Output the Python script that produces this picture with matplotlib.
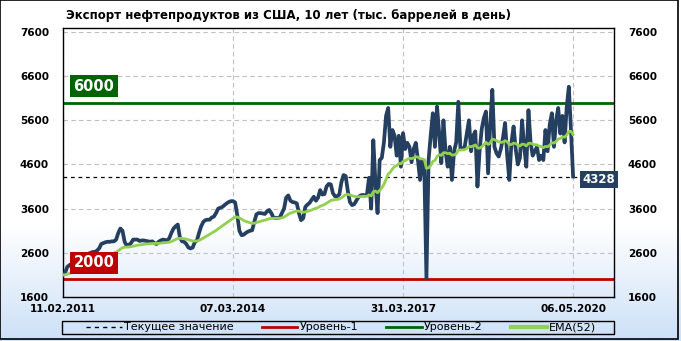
import numpy as np
import pandas as pd
import matplotlib.pyplot as plt
from matplotlib.patches import Rectangle
from matplotlib.lines import Line2D

plt.rcParams['font.family'] = 'DejaVu Sans'
plt.rcParams['font.weight'] = 'bold'

W, H = 681, 341

title = 'Экспорт нефтепродуктов из США, 10 лет (тыс. баррелей в день)'

# one value every 2 weeks, 11.02.2011 .. 06.05.2020
exports = [2100, 2150, 2280, 2320, 2350, 2380, 2420, 2450,
           2480, 2500, 2530, 2550, 2580, 2600, 2620, 2620,
           2650, 2700, 2800, 2820, 2840, 2850, 2850, 2860,
           2860, 2900, 3050, 3150, 3100, 2850, 2760, 2780,
           2820, 2900, 2900, 2900, 2870, 2880, 2880, 2870,
           2860, 2850, 2860, 2820, 2800, 2850, 2880, 2900,
           2890, 2880, 2930, 3050, 3150, 3200, 3240, 2950,
           2860, 2850, 2800, 2720, 2700, 2720, 2840, 2880,
           3050, 3200, 3300, 3340, 3350, 3350, 3400, 3420,
           3500, 3600, 3620, 3640, 3680, 3720, 3750, 3770,
           3770, 3740, 3450, 3100, 3000, 3010, 3050, 3080,
           3100, 3110, 3300, 3470, 3500, 3500, 3490, 3480,
           3540, 3570, 3500, 3400, 3390, 3390, 3400, 3500,
           3600, 3850, 3900, 3780, 3750, 3740, 3720, 3500,
           3340, 3380, 3640, 3690, 3730, 3800, 3870, 3780,
           3850, 4020, 3920, 3930, 4100, 4160, 4150, 3950,
           3880, 3880, 3920, 4200, 4360, 4340, 4000, 3750,
           3680, 3700, 3780, 3860, 3900, 3910, 3900, 3920,
           4300, 3600, 5150, 4200, 3500, 4700, 4750, 5100,
           5700, 5880, 5000, 5380, 5250, 4800, 5250, 4550,
           5310, 4950, 5090, 5000, 4650, 4950, 5090, 4700,
           4250, 4700, 4500, 2030, 4700, 5250, 5760, 5000,
           5910, 5300, 4630, 5600, 4900, 4550, 5000, 4250,
           4900, 5100, 6020, 4950, 4950, 5000, 5300, 5600,
           4900, 5250, 5350, 4100, 4900, 5400, 5650, 5800,
           4400, 5500, 6290, 5000, 4850, 4780, 4950, 5200,
           5540, 4800, 4250, 5100, 5460, 4950, 4600, 4750,
           5600, 5000, 4550, 5830, 5100, 4800, 4900, 5000,
           4700, 4800, 4700, 5380, 4900, 5500, 5760, 5000,
           5600, 5880, 5300, 5700, 5100, 5900, 6360, 5380,
           4328]

date_ticks = [0, 160, 320, 480]
date_labels = ['11.02.2011', '07.03.2014', '31.03.2017', '06.05.2020']

levels = [2000, 6000]
level_colors = ['#c00000', '#006400']
legend_labels = ['Текущее значение', 'Уровень-1', 'Уровень-2', 'EMA(52)']

line_color = '#243f60'
ema_color = '#92d050'

weeks = np.arange(len(exports)) * 2
ema = pd.Series(exports).ewm(span=26, adjust=False).mean()
current = exports[-1]

fig = plt.figure(figsize=(W / 100, H / 100), dpi=100)

# background gradient white -> light blue
bg = fig.add_axes([0, 0, 1, 1], zorder=-10)
t = np.linspace(0, 1, 200)
f = np.clip((t - 0.66) / 0.34, 0, 1)
blue = np.array([0.80, 0.88, 0.97])
grad = (1 - f)[:, None] + f[:, None] * blue[None, :]
bg.imshow(grad[:, None, :], aspect='auto', extent=[0, 1, 0, 1])
bg.axis('off')

ax = fig.add_axes([63 / W, 1 - 297 / H, 551 / W, 269 / H])
ax.set_facecolor('none')

ax.axhline(current, color='black', lw=0.9, ls=(0, (3, 3)), zorder=2)
for level, color in zip(levels, level_colors):
    ax.axhline(level, color=color, lw=2, zorder=2)
ax.plot(weeks, exports, color=line_color, lw=2.7, solid_joinstyle='round', zorder=3)
ax.plot(weeks, ema, color=ema_color, lw=2, zorder=4)

for level, color in zip(levels, level_colors):
    ax.annotate(str(level), xy=(0, level), xytext=(31, 16.5), textcoords='offset pixels',
                ha='center', va='center', color='white', fontsize=10.5,
                bbox=dict(boxstyle='square,pad=0.22', fc=color, ec='none'), zorder=6)

ax.annotate(str(current), xy=(weeks[-1], current), xytext=(26, -3), textcoords='offset pixels',
            ha='center', va='center', color='white', fontsize=8.5,
            bbox=dict(boxstyle='square,pad=0.2', fc=line_color, ec='none'),
            annotation_clip=False, zorder=6)

ax.set_xlim(0, 518.5)
ax.set_ylim(1600, 7690)
ax.set_yticks(range(1600, 7601, 1000))
ax.set_xticks(date_ticks)
ax.set_xticklabels(date_labels)
ax.tick_params(axis='y', length=0, labelsize=7.5, labelleft=True, labelright=True, pad=10)
ax.tick_params(axis='x', length=0, labelsize=7.5, pad=5)
ax.grid(True, ls=(0, (4, 3)), color='#c0c0c0', lw=0.8)
ax.set_axisbelow(True)
for s in ax.spines.values():
    s.set_color('black')
    s.set_linewidth(1)

fig.text(66 / W, 1 - 16 / H, title, ha='left', va='center', fontsize=8.5)

# legend box drawn separately, entries spread inside it
fig.patches.append(Rectangle((62 / W, 1 - 334 / H), 552 / W, 13 / H, transform=fig.transFigure,
                             fill=False, ec='black', lw=1))
handles = [Line2D([], [], color='black', lw=1, ls=(0, (3, 3))),
           Line2D([], [], color=level_colors[0], lw=2),
           Line2D([], [], color=level_colors[1], lw=2),
           Line2D([], [], color=ema_color, lw=3)]
fig.legend(handles, legend_labels, loc='center',
           bbox_to_anchor=(86 / W, 1 - 334 / H, 510 / W, 13 / H),
           ncol=4, mode='expand', borderaxespad=0, frameon=False,
           handlelength=3.2, handletextpad=0.2, borderpad=0,
           prop={'size': 8, 'weight': 'normal'})

fig.patches.append(Rectangle((0, 1 - 339 / H), 678 / W, 339 / H, transform=fig.transFigure,
                             fill=False, ec='black', lw=1.2))

fig.savefig('out.png', dpi=100)
